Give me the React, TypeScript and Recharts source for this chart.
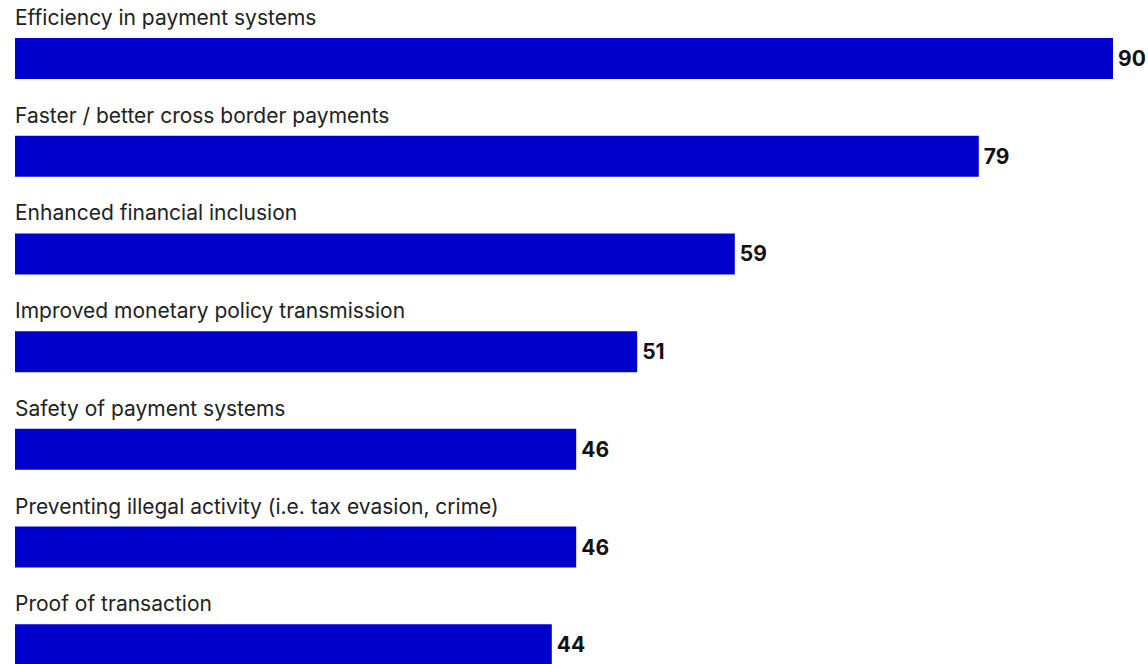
import React from "react";
import { BarChart, Bar, XAxis, YAxis, LabelList } from "recharts";

const categories = [
  "Efficiency in payment systems",
  "Faster / better cross border payments",
  "Enhanced financial inclusion",
  "Improved monetary policy transmission",
  "Safety of payment systems",
  "Preventing illegal activity (i.e. tax evasion, crime)",
  "Proof of transaction",
];
const values = [90, 79, 59, 51, 46, 46, 44];

const data = categories.map((name, i) => ({ name, value: values[i] }));

const FONT = "Inter, Roboto, sans-serif";

function CategoryLabel(props: any) {
  const { x, y, value } = props;
  return (
    <text x={x} y={y - 13} fill="#222" fontSize={21} fontFamily={FONT}>
      {value}
    </text>
  );
}

export default function App() {
  return (
    <div style={{ position: "absolute", left: 0, top: 0, width: 1148, height: 664, overflow: "hidden", background: "#fff" }}>
      <BarChart
        width={1148}
        height={694}
        data={data}
        layout="vertical"
        margin={{ top: 10, right: 35, left: 15, bottom: 0 }}
      >
        <XAxis type="number" domain={[0, 90]} hide />
        <YAxis type="category" dataKey="name" hide />
        <Bar dataKey="value" fill="#0000cc" barSize={41} isAnimationActive={false}>
          <LabelList dataKey="name" content={<CategoryLabel />} />
          <LabelList
            dataKey="value"
            position="right"
            offset={5}
            fill="#111"
            fontSize={21}
            fontWeight={700}
            fontFamily={FONT}
          />
        </Bar>
      </BarChart>
    </div>
  );
}
